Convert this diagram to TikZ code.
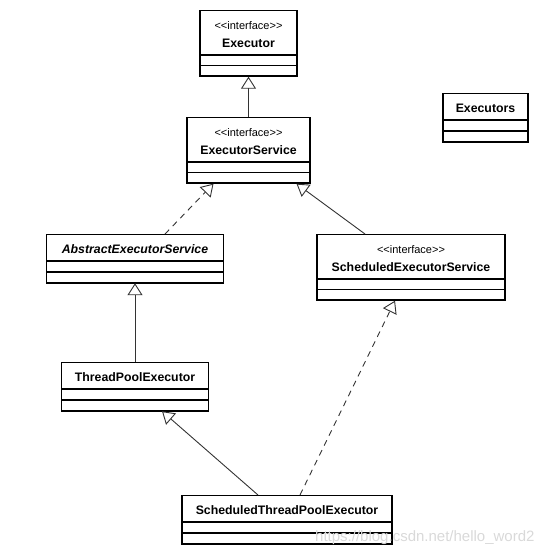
\documentclass[tikz,border=0pt]{standalone}
\usepackage{fontspec}
\setmainfont{Liberation Sans}
\usepackage{tikz}
\usetikzlibrary{
    shapes.multipart,
    arrows.meta
}

\newcommand{\stereo}{{\mdseries\fontsize{11}{17.5}\selectfont <{}<interface>{}>}}
\newcommand{\topstrut}{\rule{0pt}{19pt}}
\newcommand{\botstrut}{\rule[-7pt]{0pt}{7pt}}

\begin{document}
\begin{tikzpicture}[x=1pt,y=-1pt,
    inh/.style={-{Triangle[open,length=12pt,width=15pt]},line width=0.9pt,draw=black!80},
    real/.style={dash pattern=on 6pt off 5pt}]
    \tikzstyle{class}=[draw, line width=0.8pt, postaction={draw, line width=1.8pt},
        rectangle split, rectangle split parts=3, rectangle split empty part height=10pt,
        inner xsep=0pt, inner ysep=0pt, anchor=north, align=center,
        font=\fontsize{12.3}{17.5}\selectfont\bfseries]
    \useasboundingbox (0,0) rectangle (557,549);

    \node[class, text width=97pt] (executor) at (248.5, 10) {\topstrut\stereo\\Executor\botstrut};
    \node[class, text width=123pt] (es) at (248.5, 117) {\topstrut\stereo\\ExecutorService\botstrut};
    \node[class, text width=85pt] (executors) at (485.5, 93) {\topstrut Executors\botstrut};
    \node[class, text width=177pt] (aes) at (135, 234) {\topstrut\itshape AbstractExecutorService\botstrut};
    \node[class, text width=188pt] (ses) at (411, 234) {\topstrut\stereo\\ScheduledExecutorService\botstrut};
    \node[class, text width=147pt] (tpe) at (135, 362) {\topstrut ThreadPoolExecutor\botstrut};
    \node[class, text width=210pt] (stpe) at (287, 495) {\topstrut ScheduledThreadPoolExecutor\botstrut};

    \draw[inh] (es) -- (executor);
    \draw[inh, real] ([xshift=30pt]aes.north) -- ([xshift=-35pt]es.south);
    \draw[inh] ([xshift=-46pt]ses.north) -- ([xshift=48pt]es.south);
    \draw[inh] (tpe) -- (aes);
    \draw[inh] ([xshift=-29pt]stpe.north) -- ([xshift=27pt]tpe.south);
    \draw[inh, real] ([xshift=13pt]stpe.north) -- ([xshift=-16pt]ses.south);

    \node[text=black!15, font=\fontsize{15}{15}\selectfont, anchor=base west, inner sep=0pt] (mark) at (315, 541) {https://blog.csdn.net/hello\_word2};
\end{tikzpicture}
\end{document}
